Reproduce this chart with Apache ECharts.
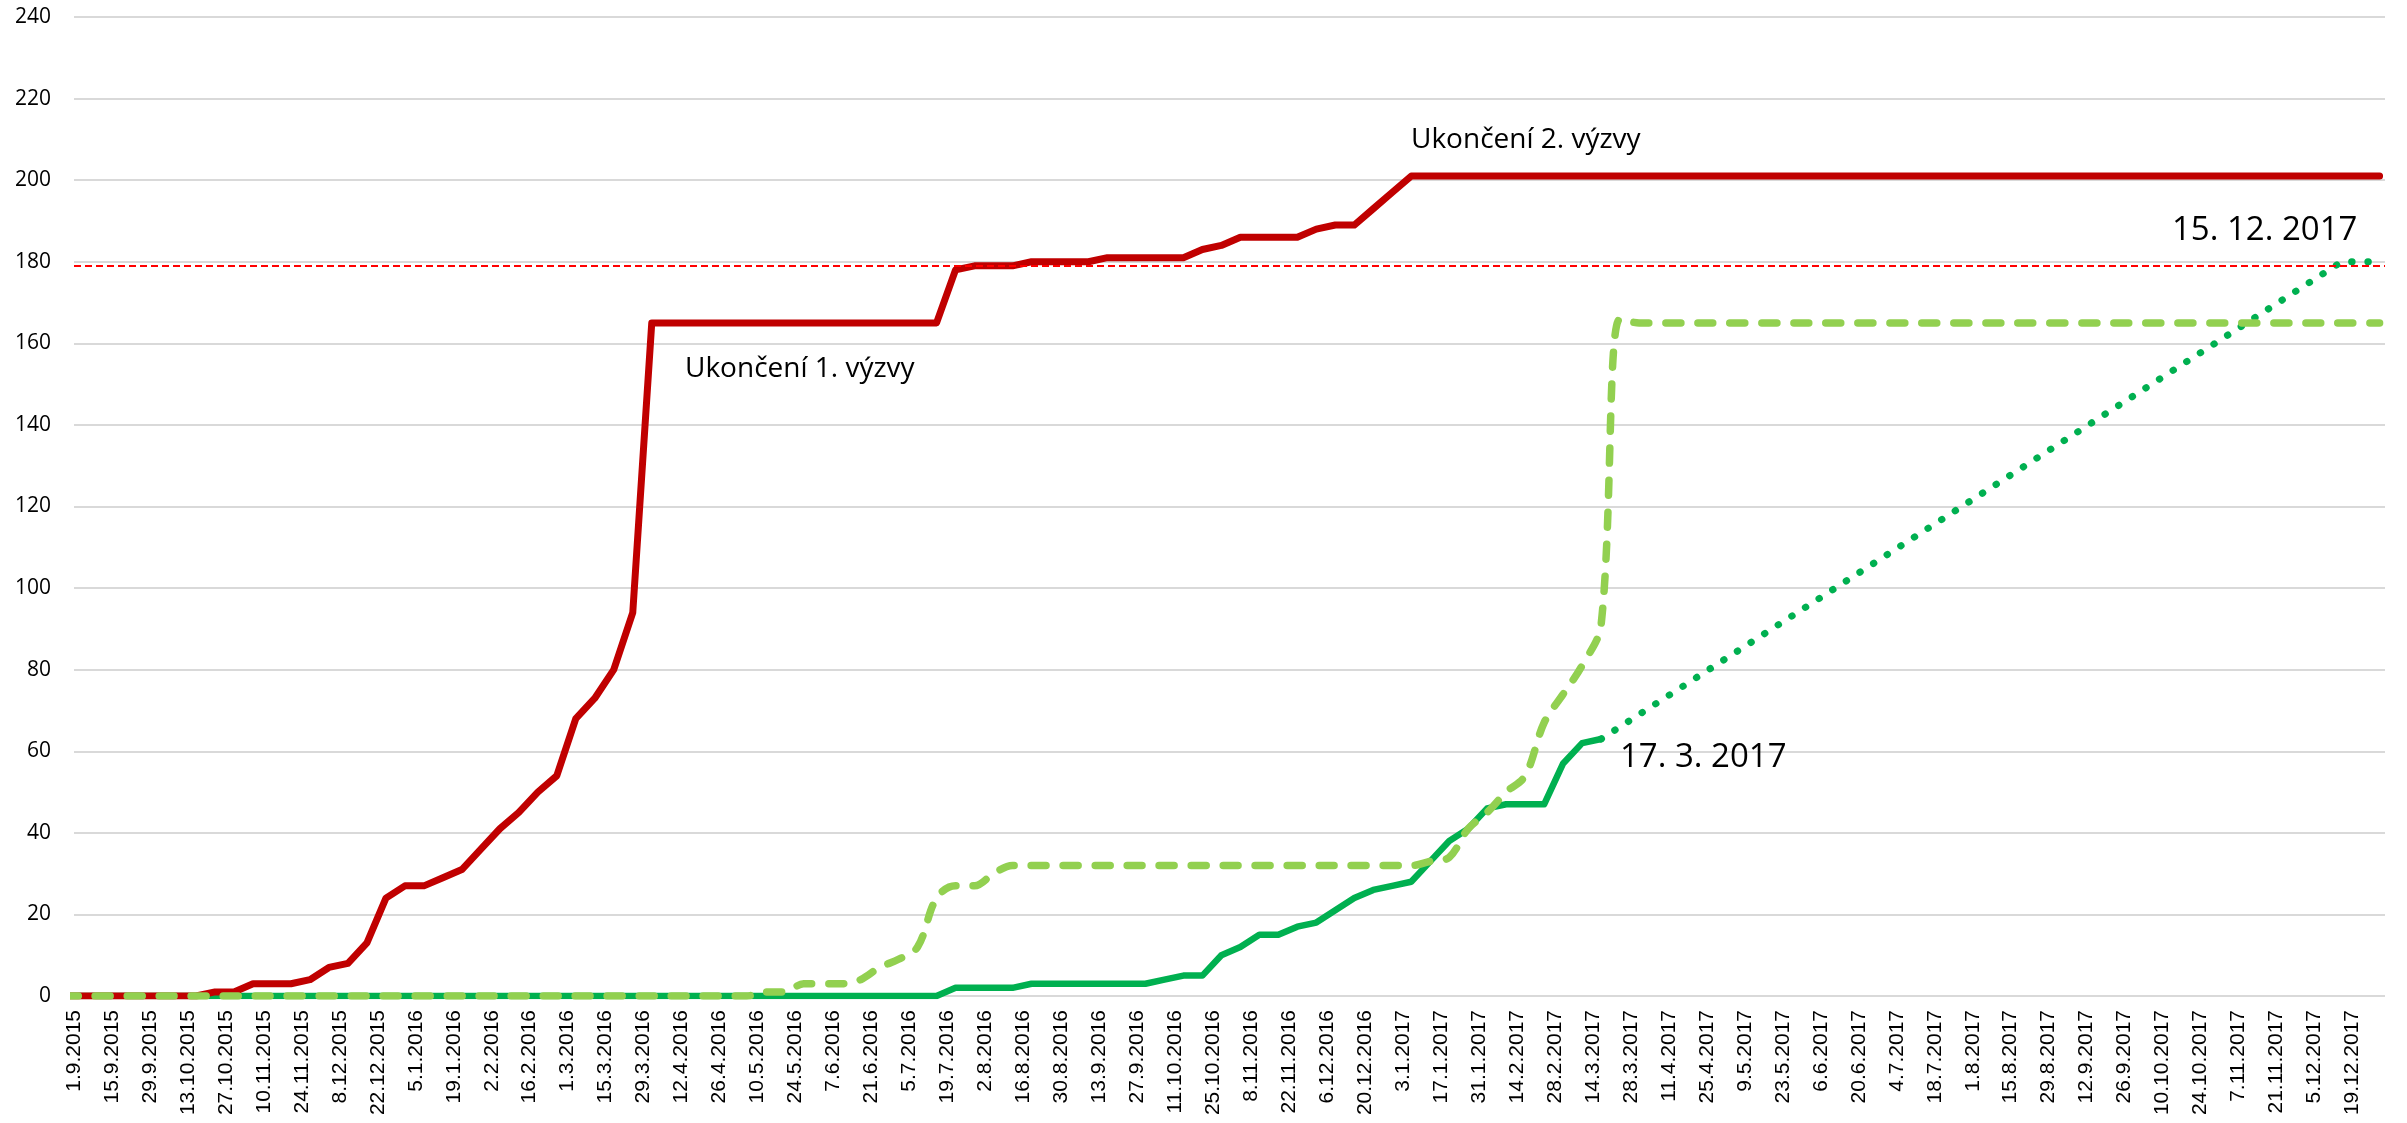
<!DOCTYPE html>
<html>
<head>
<meta charset="utf-8">
<script src="https://cdn.jsdelivr.net/npm/echarts/dist/echarts.min.js"></script>
<style>
html,body{margin:0;padding:0;background:#fff;}
#chart{width:2407px;height:1123px;}
</style>
</head>
<body>
<div id="chart"></div>
<script>
// ---------- axis ----------
const axisStart = '1.9.2015';
const axisEnd = '31.12.2017';
const tickStepDays = 14;
const tickLabels = ['1.9.2015','15.9.2015','29.9.2015','13.10.2015','27.10.2015','10.11.2015','24.11.2015','8.12.2015','22.12.2015',
'5.1.2016','19.1.2016','2.2.2016','16.2.2016','1.3.2016','15.3.2016','29.3.2016','12.4.2016','26.4.2016','10.5.2016','24.5.2016','7.6.2016','21.6.2016','5.7.2016','19.7.2016','2.8.2016','16.8.2016','30.8.2016','13.9.2016','27.9.2016','11.10.2016','25.10.2016','8.11.2016','22.11.2016','6.12.2016','20.12.2016',
'3.1.2017','17.1.2017','31.1.2017','14.2.2017','28.2.2017','14.3.2017','28.3.2017','11.4.2017','25.4.2017','9.5.2017','23.5.2017','6.6.2017','20.6.2017','4.7.2017','18.7.2017','1.8.2017','15.8.2017','29.8.2017','12.9.2017','26.9.2017','10.10.2017','24.10.2017','7.11.2017','21.11.2017','5.12.2017','19.12.2017'];

// ---------- weekly data dates (Fridays) ----------
const weekDates = [
'28.8.2015','4.9.2015','11.9.2015','18.9.2015','25.9.2015','2.10.2015','9.10.2015','16.10.2015','23.10.2015','30.10.2015','6.11.2015','13.11.2015','20.11.2015','27.11.2015','4.12.2015','11.12.2015','18.12.2015','25.12.2015',
'1.1.2016','8.1.2016','15.1.2016','22.1.2016','29.1.2016','5.2.2016','12.2.2016','19.2.2016','26.2.2016','4.3.2016','11.3.2016','18.3.2016','25.3.2016','1.4.2016','8.4.2016','15.4.2016','22.4.2016','29.4.2016','6.5.2016','13.5.2016','20.5.2016','27.5.2016','3.6.2016','10.6.2016','17.6.2016','24.6.2016','1.7.2016','8.7.2016','15.7.2016','22.7.2016','29.7.2016','5.8.2016','12.8.2016','19.8.2016','26.8.2016','2.9.2016','9.9.2016','16.9.2016','23.9.2016','30.9.2016','7.10.2016','14.10.2016','21.10.2016','28.10.2016','4.11.2016','11.11.2016','18.11.2016','25.11.2016','2.12.2016','9.12.2016','16.12.2016','23.12.2016','30.12.2016',
'6.1.2017','13.1.2017','20.1.2017','27.1.2017','3.2.2017','10.2.2017','17.2.2017','24.2.2017','3.3.2017','10.3.2017','17.3.2017','24.3.2017','31.3.2017','7.4.2017','14.4.2017','21.4.2017','28.4.2017','5.5.2017','12.5.2017','19.5.2017','26.5.2017','2.6.2017','9.6.2017','16.6.2017','23.6.2017','30.6.2017','7.7.2017','14.7.2017','21.7.2017','28.7.2017','4.8.2017','11.8.2017','18.8.2017','25.8.2017','1.9.2017','8.9.2017','15.9.2017','22.9.2017','29.9.2017','6.10.2017','13.10.2017','20.10.2017','27.10.2017','3.11.2017','10.11.2017','17.11.2017','24.11.2017','1.12.2017','8.12.2017','15.12.2017','22.12.2017','29.12.2017'];

// ---------- series values (one per week date) ----------
const redSeries = [
0, 0,0,0,0, 0,0,0,1,1, 3,3,3,4, 7,8,13,24,
27,27,29,31,36, 41,45,50,54, 68,73,80,94, 165,165,165,165,165, 165,165,165,165, 165,165,165,165, 165,165,165,178,179, 179,179,180,180, 180,180,181,181,181, 181,181,183,184, 186,186,186,186, 188,189,189,193,197,
201,201,201,201, 201,201,201,201, 201,201,201,201,201, 201,201,201,201, 201,201,201,201, 201,201,201,201,201, 201,201,201,201, 201,201,201,201, 201,201,201,201,201, 201,201,201,201, 201,201,201,201, 201,201,201,201,201];

const darkGreenSeries = [
0, 0,0,0,0, 0,0,0,0,0, 0,0,0,0, 0,0,0,0,
0,0,0,0,0, 0,0,0,0, 0,0,0,0, 0,0,0,0,0, 0,0,0,0, 0,0,0,0, 0,0,0,2,2, 2,2,3,3, 3,3,3,3,3, 4,5,5,10, 12,15,15,17, 18,21,24,26,27,
28,33,38,41, 46,47,47,47, 57,62,63,null,null, null,null,null,null, null,null,null,null, null,null,null,null,null, null,null,null,null, null,null,null,null, null,null,null,null,null, null,null,null,null, null,null,null,null, null,null,null,null,null];

const darkGreenForecast = [
null, null,null,null,null, null,null,null,null,null, null,null,null,null, null,null,null,null,
null,null,null,null,null, null,null,null,null, null,null,null,null, null,null,null,null,null, null,null,null,null, null,null,null,null, null,null,null,null,null, null,null,null,null, null,null,null,null,null, null,null,null,null, null,null,null,null, null,null,null,null,null,
null,null,null,null, null,null,null,null, null,null,63,66,69, 72,75,78,81, 84,87,90,93, 96,99,102,105,108, 111,114,117,120, 123,126,129,132, 135,138,141,144,147, 150,153,156,159, 162,165,168,171, 174,177,180,180,180];

const lightGreenSeries = [
0, 0,0,0,0, 0,0,0,0,0, 0,0,0,0, 0,0,0,0,
0,0,0,0,0, 0,0,0,0, 0,0,0,0, 0,0,0,0,0, 0,1,1,3, 3,3,4,7, 9,12,24,27,27, 30,32,32,32, 32,32,32,32,32, 32,32,32,32, 32,32,32,32, 32,32,32,32,32,
32,33,34,41, 45,50,54,67, 74,81,91,166,165, 165,165,165,165, 165,165,165,165, 165,165,165,165,165, 165,165,165,165, 165,165,165,165, 165,165,165,165,165, 165,165,165,165, 165,165,165,165, 165,165,165,165,165];

const targetValue = 179;
const yTicks = { min: 0, max: 240, step: 20 };
const annotationTexts = ['Ukončení 1. výzvy', 'Ukončení 2. výzvy', '15. 12. 2017', '17. 3. 2017'];

// ---------- helpers ----------
function parseDate(s) { const p = s.split('.').map(Number); return Date.UTC(p[2], p[1] - 1, p[0]); }
const base = parseDate(axisStart);
function dayOf(s) { return Math.round((parseDate(s) - base) / 86400000); }
function pairs(vals) {
  const out = [];
  weekDates.forEach((d, i) => { if (vals[i] !== null && vals[i] !== undefined) out.push([dayOf(d), vals[i]]); });
  return out;
}

const chart = echarts.init(document.getElementById('chart'), null, { renderer: 'canvas' });
const annFontSmall = '28px "Open Sans"';
const annFontBig = '33px "Open Sans"';

chart.setOption({
  animation: false,
  backgroundColor: '#ffffff',
  grid: { left: 74, right: 22, top: 17, bottom: 127, containLabel: false, outerBoundsMode: 'none' },
  xAxis: {
    type: 'value',
    min: 0,
    max: dayOf(axisEnd),
    interval: tickStepDays,
    axisLine: { show: false },
    axisTick: { show: false },
    splitLine: { show: false },
    axisLabel: {
      rotate: 90,
      margin: 14,
      color: '#000',
      fontFamily: 'Liberation Sans',
      fontSize: 21,
      showMinLabel: true,
      showMaxLabel: false,
      hideOverlap: false,
      formatter: function (v) { const i = Math.round(v / tickStepDays); return (v % tickStepDays === 0 && tickLabels[i]) ? tickLabels[i] : ''; }
    }
  },
  yAxis: {
    type: 'value',
    min: yTicks.min,
    max: yTicks.max,
    interval: yTicks.step,
    axisLine: { show: false },
    axisTick: { show: false },
    splitLine: { show: true, lineStyle: { color: '#d9d9d9', width: 2 } },
    axisLabel: { color: '#000', fontFamily: 'Open Sans', fontSize: 21, margin: 23 }
  },
  series: [
    {
      name: 'schváleno', type: 'line', data: pairs(darkGreenSeries), showSymbol: false, silent: true,
      lineStyle: { color: '#00B050', width: 6.5, cap: 'round', join: 'round' }, z: 2
    },
    {
      name: 'odhad', type: 'line', data: pairs(darkGreenForecast), showSymbol: false, silent: true,
      lineStyle: { color: '#00B050', width: 7, type: [0.5, 15.7], cap: 'round', join: 'round' }, z: 2
    },
    {
      name: 'podáno', type: 'line', data: pairs(redSeries), showSymbol: false, silent: true,
      lineStyle: { color: '#C00000', width: 7, cap: 'round', join: 'round' }, z: 3,
      markLine: {
        silent: true, symbol: 'none', animation: false,
        label: { show: false },
        lineStyle: { color: '#FF0000', width: 2, type: [7, 4], cap: 'butt' },
        data: [{ yAxis: targetValue }]
      }
    },
    {
      name: 'podáno 2', type: 'line', data: pairs(lightGreenSeries), showSymbol: false, silent: true, smooth: 0.35,
      lineStyle: { color: '#92D050', width: 7.5, type: [15, 17], cap: 'round', join: 'round' }, z: 4
    }
  ],
  graphic: [
    { type: 'text', x: 685, y: 369, z: 100, style: { text: annotationTexts[0], font: annFontSmall, fill: '#000', align: 'left', verticalAlign: 'middle' } },
    { type: 'text', x: 1411, y: 140, z: 100, style: { text: annotationTexts[1], font: annFontSmall, fill: '#000', align: 'left', verticalAlign: 'middle' } },
    { type: 'text', x: 2172, y: 231, z: 100, style: { text: annotationTexts[2], font: annFontBig, fill: '#000', align: 'left', verticalAlign: 'middle' } },
    { type: 'text', x: 1620, y: 758, z: 100, style: { text: annotationTexts[3], font: annFontBig, fill: '#000', align: 'left', verticalAlign: 'middle' } }
  ]
});
</script>
</body>
</html>
